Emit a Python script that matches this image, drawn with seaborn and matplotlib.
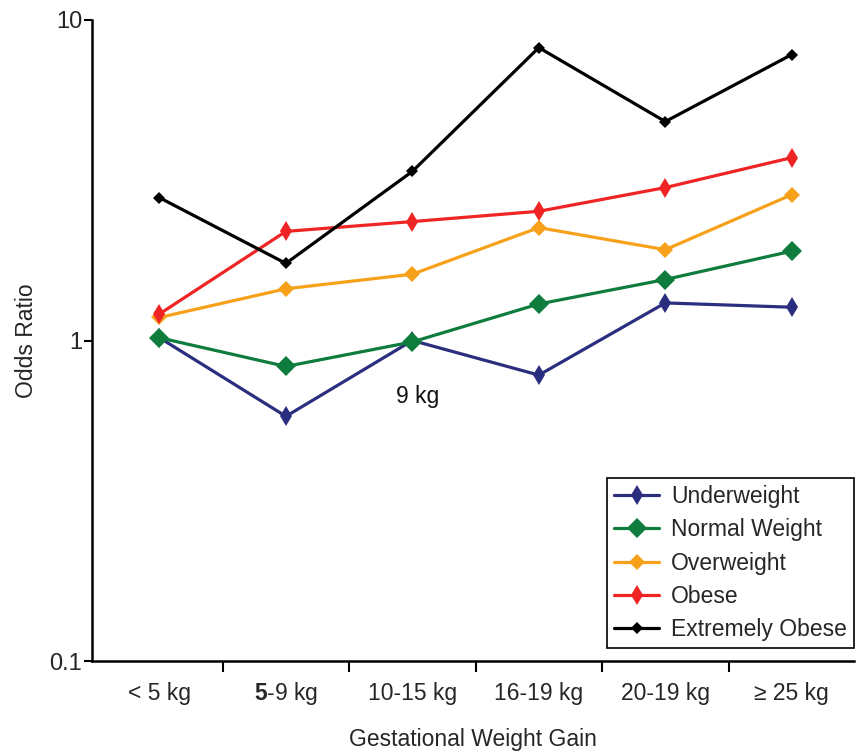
import seaborn as sns
import matplotlib.pyplot as plt
import numpy as np
from matplotlib.ticker import FixedLocator, NullLocator

sns.set_theme(style="white")
plt.rcParams['font.family'] = ['Liberation Sans', 'DejaVu Sans']
plt.rcParams['mathtext.fontset'] = 'custom'
plt.rcParams['mathtext.rm'] = 'Liberation Sans'
plt.rcParams['mathtext.bf'] = 'Liberation Sans:bold'

# データ
categories = ["< 5 kg", r"$\mathbf{5}$-9 kg", "10-15 kg", "16-19 kg", "20-19 kg", "≥ 25 kg"]
underweight = [1.02, 0.58, 1.00, 0.78, 1.31, 1.27]
normal_weight = [1.02, 0.83, 0.99, 1.30, 1.55, 1.90]
overweight = [1.18, 1.45, 1.61, 2.25, 1.92, 2.85]
obese = [1.21, 2.19, 2.35, 2.53, 3.00, 3.72]
extremely_obese = [2.79, 1.74, 3.37, 8.2, 4.82, 7.8]

series = [
    ("Underweight", underweight, "#2b2e7f", "d", 10),
    ("Normal Weight", normal_weight, "#0e7c3d", "D", 10.5),
    ("Overweight", overweight, "#f7a11a", "D", 8),
    ("Obese", obese, "#ee2524", "d", 10),
    ("Extremely Obese", extremely_obese, "#000000", "D", 6),
]

fig = plt.figure(figsize=(8.58, 7.54), dpi=100)
ax = fig.add_axes([0.107, 0.1233, 0.888, 0.8502])

x = np.arange(len(categories))
for name, vals, color, mk, ms in series:
    sns.lineplot(x=x, y=vals, color=color, marker=mk, markersize=ms,
                 markeredgewidth=0, linewidth=2.3, label=name, ax=ax)

ax.set_yscale('log')
ax.set_ylim(0.1, 10)
ax.set_xlim(-0.535, 5.49)
ax.yaxis.set_major_locator(FixedLocator([0.1, 1, 10]))
ax.yaxis.set_minor_locator(NullLocator())
ax.set_yticklabels(["0.1", "1", "10"])

ax.set_xticks(x)
ax.set_xticklabels(categories)
for lbl in ax.get_xticklabels():
    lbl.set_verticalalignment('baseline')
ax.xaxis.set_minor_locator(FixedLocator(x[:-1] + 0.5))
ax.tick_params(axis='x', which='major', length=0, pad=28, labelsize=16.5)
ax.tick_params(axis='x', which='minor', bottom=True, length=8, width=1.5, direction='out', color='black')
ax.tick_params(axis='y', which='major', left=True, length=6, width=1.5, direction='out', color='black', labelsize=17, pad=1)

for s in ['top', 'right']:
    ax.spines[s].set_visible(False)
for s in ['left', 'bottom']:
    ax.spines[s].set_color('black')
    ax.spines[s].set_linewidth(1.8)

ax.set_xlabel("Gestational Weight Gain", fontsize=16.5, labelpad=15)
ax.set_ylabel("Odds Ratio", fontsize=16.5, labelpad=8)

ax.text(2.04, 0.668, "9 kg", fontsize=16.5, ha='center', va='center', color='#111111')

leg = ax.legend(loc='lower right', bbox_to_anchor=(1.006, 0.013), fontsize=16.5,
                frameon=True, fancybox=False, edgecolor='black', framealpha=1,
                handlelength=2.0, borderpad=0.3, labelspacing=0.45, handletextpad=0.5,
                borderaxespad=0.2)
leg.get_frame().set_linewidth(1.2)

fig.savefig("out.png", dpi=100)
